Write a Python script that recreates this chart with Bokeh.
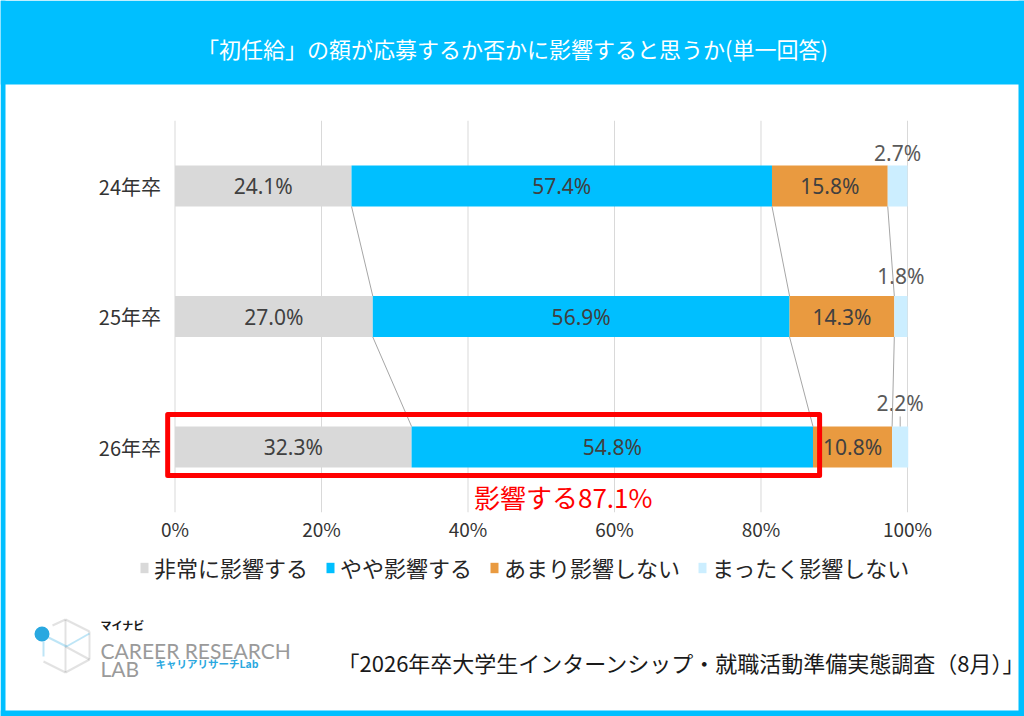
import numpy as np
from bokeh.plotting import figure
from bokeh.models import (ColumnDataSource, Range1d, Label, BoxAnnotation,
                          PolyAnnotation, Legend, LegendItem)
from bokeh.embed import file_html
from bokeh.resources import INLINE
from bokeh.core.properties import value

# ---------------- data ----------------
TITLE = "「初任給」の額が応募するか否かに影響すると思うか(単一回答)"
SOURCE = "「2026年卒大学生インターンシップ・就職活動準備実態調査（8月）」"
categories = ["24年卒", "25年卒", "26年卒"]
series_names = ["非常に影響する", "やや影響する", "あまり影響しない", "まったく影響しない"]
very_much = [24.1, 27.0, 32.3]
somewhat = [57.4, 56.9, 54.8]
not_much = [15.8, 14.3, 10.8]
not_at_all = [2.7, 1.8, 2.2]
x_ticks = [0, 20, 40, 60, 80, 100]
x_tick_labels = ["0%", "20%", "40%", "60%", "80%", "100%"]
highlight_label = "影響する"

# ---------------- styles ----------------
colors = ["#D9D9D9", "#00BFFF", "#E99A40", "#CCEEFF"]
CYAN = "#00BFFF"
JP = value("Noto Sans CJK JP")
NUM = value("Noto Sans")
small_label_dy = [-33, -41, -44]   # pixel offsets of the small-segment labels
BAR_H = 0.314
TICK_LABEL_Y = -0.125

W, H = 1024, 716
p = figure(width=W, height=H, x_range=Range1d(-23.823, 115.973), y_range=Range1d(-1.5651, 3.9215),
           output_backend="svg", toolbar_location=None,
           x_axis_location=None, y_axis_location=None, min_border=0)
p.outline_line_color = None
p.background_fill_color = "white"
p.border_fill_color = "white"
p.xgrid.visible = False
p.ygrid.visible = False

n = len(categories)
row_y = [n - i - 0.5 for i in range(n)]

# grid lines and tick labels (value axis)
p.segment(x0=x_ticks, y0=[0] * len(x_ticks), x1=x_ticks, y1=[n] * len(x_ticks),
          line_color="#D9D9D9", line_width=1)
p.text(x=x_ticks, y=[TICK_LABEL_Y] * len(x_ticks), text=x_tick_labels, text_align="center",
       text_baseline="middle", text_font_size="19px", text_font=JP, text_color="#333333")
# category labels
p.text(x=[0] * n, y=row_y, text=categories, x_offset=-14, text_align="right",
       text_baseline="middle", text_font_size="20px", text_font=JP, text_color="#333333")

# bars
arr = np.array([very_much, somewhat, not_much, not_at_all])
right = np.cumsum(arr, axis=0)
left = right - arr
renderers = []
for k in range(4):
    src = ColumnDataSource(dict(y=row_y, left=left[k], right=right[k],
                                mid=(left[k] + right[k]) / 2,
                                lab=[f"{v:.1f}%" for v in arr[k]]))
    r = p.hbar(y="y", left="left", right="right", height=BAR_H, source=src,
               fill_color=colors[k], line_color=None)
    renderers.append(r)
    if k < 3:
        p.text(x="mid", y="y", text="lab", source=src, text_align="center",
               text_baseline="middle", text_font_size="21px", text_font=NUM,
               text_color="#404040")
    else:
        src.data["dy"] = small_label_dy
        p.text(x="mid", y="y", text="lab", source=src, y_offset="dy", text_align="center",
               text_baseline="middle", text_font_size="21px", text_font=NUM,
               text_color="#595959")

# connector lines between rows
cx0, cy0, cx1, cy1 = [], [], [], []
for i in range(n - 1):
    for k in range(3):
        cx0.append(right[k][i]); cy0.append(row_y[i] - BAR_H / 2)
        cx1.append(right[k][i + 1]); cy1.append(row_y[i + 1] + BAR_H / 2)
p.segment(x0=cx0, y0=cy0, x1=cx1, y1=cy1, line_color="#A6A6A6", line_width=1)

# leader for last row small label
last = n - 1
lx = (left[3][last] + right[3][last]) / 2
p.segment(x0=[lx], y0=[row_y[last] + BAR_H / 2], x1=[lx], y1=[row_y[last] + BAR_H / 2 + 0.077],
          line_color="#A6A6A6", line_width=1)

# highlight box
affect_total = right[1][last]
p.quad(left=[-1.0], right=[affect_total + 0.9], top=[row_y[last] + 0.249],
       bottom=[row_y[last] - 0.218], fill_color=None, line_color="#FF0000", line_width=5,
       line_join="round")
p.text(x=[53.0], y=[row_y[last] - 0.379], text=[f"{highlight_label}{affect_total:.1f}%"],
       text_align="center", text_baseline="middle", text_font_size="26px", text_font=JP,
       text_color="#FF0000")

# legend
legend = Legend(items=[LegendItem(label=series_names[k], renderers=[renderers[k]]) for k in range(4)],
                orientation="horizontal", location=(139, 133))
legend.border_line_color = None
legend.background_fill_alpha = 0
legend.padding = 0
legend.margin = 0
legend.spacing = 17
legend.glyph_width = 10
legend.glyph_height = 13
legend.label_standoff = 5
legend.label_height = 24
legend.label_text_font_size = "22px"
legend.label_text_font = "Noto Sans CJK JP"
legend.label_text_color = "#262626"
legend.label_text_baseline = "middle"
p.add_layout(legend)

# frame decoration (canvas units)
def cbox(l, r, t, b, color, radius=0):
    return BoxAnnotation(left=l, right=r, top=t, bottom=b, left_units="canvas", right_units="canvas",
                         top_units="canvas", bottom_units="canvas", fill_color=color, fill_alpha=1,
                         line_color=None, border_radius=radius, level="annotation")

for b in [cbox(0, W, 0, 84, CYAN), cbox(0, 5, 0, H, CYAN), cbox(W - 6, W, 0, H, CYAN),
          cbox(0, W, H - 6, H, CYAN)]:
    p.add_layout(b)

p.add_layout(Label(x=512, y=47, x_units="canvas", y_units="canvas", text=TITLE, text_align="center",
                   text_baseline="middle", text_color="white", text_font_size="22px",
                   text_font="Noto Sans CJK JP"))
p.add_layout(Label(x=337, y=661, x_units="canvas", y_units="canvas", text=SOURCE, text_align="left",
                   text_baseline="middle", text_color="#1A1A1A", text_font_size="22px",
                   text_font="Noto Sans CJK JP"))

# logo
GRAY = "#A0A0A0"
BLUE = "#29A8E0"
def cline(pts, color):
    return PolyAnnotation(xs=[q[0] for q in pts], ys=[q[1] for q in pts], xs_units="canvas",
                          ys_units="canvas", fill_alpha=0, line_color=color, line_width=2)

for seg in [[(65, 619), (89, 631)], [(89, 631), (89, 659)], [(89, 659), (65, 672)],
            [(65, 672), (43, 661)], [(65, 619), (65, 672)], [(65, 646), (89, 659)],
            [(52, 625), (65, 619)]]:
    p.add_layout(cline(seg, GRAY))
for seg in [[(48, 637), (66, 646)], [(66, 646), (89, 633)], [(43, 641), (43, 656)]]:
    p.add_layout(cline(seg, BLUE))
p.add_layout(cbox(34, 49, 626, 641, BLUE, 8))

p.add_layout(Label(x=100, y=650, x_units="canvas", y_units="canvas", text="CAREER RESEARCH",
                   text_baseline="alphabetic", text_color="#9A9A9A", text_font_size="21px",
                   text_font="Lato"))
p.add_layout(Label(x=100, y=668, x_units="canvas", y_units="canvas", text="LAB",
                   text_baseline="alphabetic", text_color="#9A9A9A", text_font_size="21px",
                   text_font="Lato"))
p.add_layout(Label(x=100, y=624, x_units="canvas", y_units="canvas", text="マイナビ",
                   text_baseline="middle", text_color="#1A1A1A", text_font_size="11px",
                   text_font_style="bold", text_font="Noto Sans CJK JP"))
p.add_layout(Label(x=155, y=663, x_units="canvas", y_units="canvas", text="キャリアリサーチLab",
                   text_baseline="middle", text_color=BLUE, text_font_size="10.5px",
                   text_font_style="bold", text_font="Noto Sans CJK JP"))

open("out.html", "w").write(file_html(p, INLINE))
